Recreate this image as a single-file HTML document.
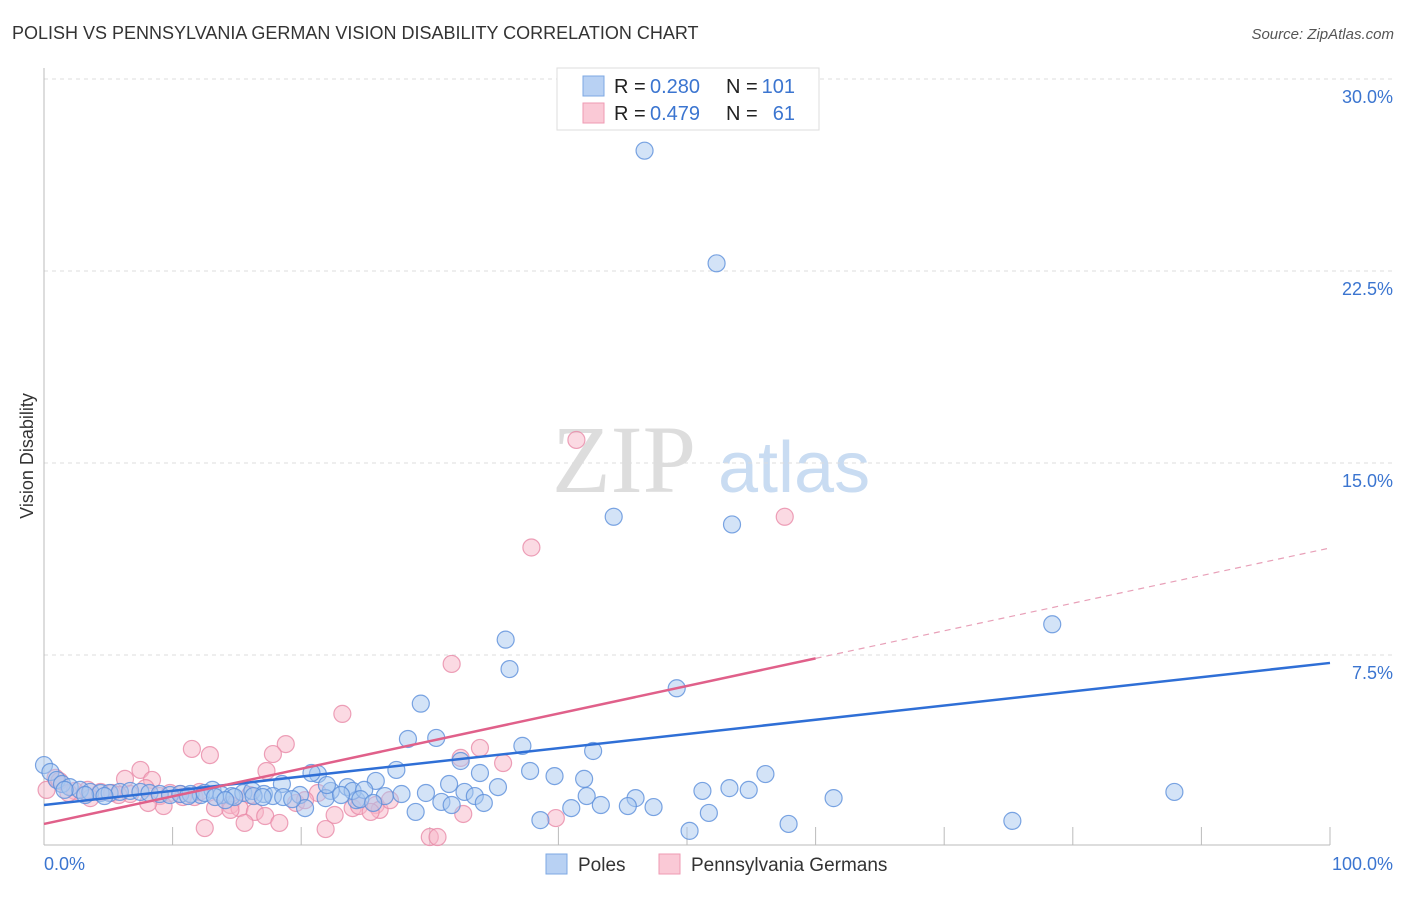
<!DOCTYPE html>
<html><head><meta charset="utf-8"><style>
body{margin:0;background:#fff;font-family:"Liberation Sans",sans-serif;}
</style></head><body>
<svg id="chart" width="1406" height="892" font-family="Liberation Sans, sans-serif">
<text x="12" y="39" font-size="18" fill="#333">POLISH VS PENNSYLVANIA GERMAN VISION DISABILITY CORRELATION CHART</text>
<text x="1394" y="39" font-size="15" fill="#555" font-style="italic" text-anchor="end">Source: ZipAtlas.com</text>
<text x="33" y="456" font-size="18" fill="#333" text-anchor="middle" transform="rotate(-90 33 456)">Vision Disability</text>
<g>
<text x="552" y="492" font-size="96" fill="#ddd" style="font-family:'Liberation Serif',serif">ZIP</text>
<text x="718" y="492" font-size="72" fill="#c9dcf2">atlas</text>
</g>
<g id="grid"></g>
<g id="axes"></g>
<g id="pinkPts"></g>
<g id="bluePts"></g>
<g id="lines"></g>
<g>
<rect x="557" y="68" width="262" height="62" fill="#fff" stroke="#ddd"/>
<rect x="583" y="76" width="21" height="20" fill="#b8d1f3" stroke="#7ea8e3"/>
<rect x="583" y="103" width="21" height="20" fill="#fac9d6" stroke="#ef9ab3"/>
<g font-size="20">
<text x="614" y="93" fill="#222">R =</text><text x="650" y="93" fill="#3b75d0">0.280</text>
<text x="726" y="93" fill="#222">N =</text><text x="795" y="93" fill="#3b75d0" text-anchor="end">101</text>
</g>
<g font-size="20">
<text x="614" y="120" fill="#222">R =</text><text x="650" y="120" fill="#3b75d0">0.479</text>
<text x="726" y="120" fill="#222">N =</text><text x="795" y="120" fill="#3b75d0" text-anchor="end">61</text>
</g>
</g>
<g>
<rect x="546" y="854" width="21" height="20" fill="#b8d1f3" stroke="#7ea8e3"/>
<text x="578" y="871" font-size="19" fill="#333">Poles</text>
<rect x="659" y="854" width="21" height="20" fill="#fac9d6" stroke="#ef9ab3"/>
<text x="691" y="871" font-size="19" fill="#333">Pennsylvania Germans</text>
</g>
</svg>
<script>
const yTicks=[7.5,15,22.5,30];
const yTickLabels=["7.5%","15.0%","22.5%","30.0%"];
const xTickLabels=["0.0%","100.0%"];
const polesX=[46.7,52.3,44.3,53.5,78.4,35.9,36.2,49.2,29.3,28.3,30.5,37.2,42.7,32.4,33.9,37.8,39.7,42.0,27.4,21.3,20.8,56.1,53.3,54.8,51.2,87.9,61.4,25.8,23.6,22.3,18.5,19.9,21.9,24.3,26.5,27.8,29.7,31.5,32.7,35.3,33.5,30.9,31.7,34.2,28.9,20.3,42.2,46.0,45.4,47.4,43.3,41.0,38.6,51.7,50.2,57.9,75.3,0.0,0.5,1.0,1.4,2.0,2.8,3.6,4.4,5.1,5.9,6.7,7.5,8.2,9.0,9.8,10.6,11.4,12.2,13.1,13.8,14.6,15.5,16.2,17.1,17.8,18.6,19.3,14.8,11.2,12.5,13.3,14.1,16.3,17.0,4.7,3.2,1.6,24.0,24.9,24.6,22.0,23.1,25.6];
const polesY=[27.2,22.8,12.9,12.6,8.7,8.1,6.95,6.2,5.6,4.22,4.26,3.95,3.75,3.36,2.89,2.97,2.77,2.66,3.01,2.85,2.89,2.85,2.3,2.23,2.19,2.15,1.91,2.58,2.34,2.19,2.46,2.03,1.91,1.83,1.99,2.07,2.11,2.46,2.15,2.34,1.99,1.76,1.64,1.72,1.37,1.52,1.99,1.91,1.6,1.56,1.64,1.52,1.05,1.33,0.63,0.9,1.02,3.2,2.93,2.62,2.46,2.34,2.23,2.15,2.11,2.11,2.15,2.19,2.15,2.11,2.07,2.03,2.07,2.07,2.03,2.23,2.03,1.99,2.11,2.19,2.07,1.99,1.95,1.87,1.95,1.99,2.11,1.95,1.83,1.99,1.95,1.99,2.03,2.23,2.19,2.23,1.87,2.42,2.03,1.72];
const pgX=[41.4,57.6,37.9,31.7,23.2,11.5,12.9,18.8,17.8,33.9,32.4,35.7,7.5,6.3,8.4,17.3,0.2,0.9,1.2,2.4,3.4,4.4,5.3,6.7,7.9,9.0,9.8,10.6,11.7,13.3,14.5,15.2,16.4,17.2,18.3,12.5,15.6,21.9,22.6,19.6,21.3,24.0,24.5,25.8,26.1,25.4,32.6,39.8,30.0,30.6,9.3,8.1,5.8,1.9,3.6,20.3,16.0,14.5,10.8,12.1,26.9];
const pgY=[15.9,12.9,11.7,7.15,5.2,3.83,3.59,4.02,3.63,3.87,3.48,3.28,3.01,2.66,2.62,2.97,2.23,2.7,2.58,2.19,2.23,2.15,2.11,2.07,2.3,1.99,2.11,2.07,1.95,1.52,1.64,1.52,1.37,1.21,0.94,0.74,0.94,0.7,1.25,1.72,2.11,1.52,1.6,1.64,1.45,1.37,1.29,1.13,0.39,0.39,1.6,1.72,2.03,2.11,1.91,1.83,2.03,1.45,1.95,2.15,1.83];
const polesTrend=[1.64,7.19];
const pgTrend=[0.9,11.68];
const pgSolidEnd=60;
</script>
<script>
const NS="http://www.w3.org/2000/svg";
const X0=44,X1=1330,Y0=847,PPY=25.6;
const xs=v=>X0+(X1-X0)*v/100;
const ys=v=>Y0-v*PPY;
function mk(tag,attrs,parent){const e=document.createElementNS(NS,tag);for(const k in attrs)e.setAttribute(k,attrs[k]);parent.appendChild(e);return e;}
const grid=document.getElementById('grid'),axes=document.getElementById('axes');
yTicks.forEach((t,i)=>{
 const l=mk('line',{x1:X0,x2:1394,y1:ys(t),y2:ys(t),stroke:'#ddd','stroke-dasharray':'4,4'},grid);
 
 
 const tx=mk('text',{x:1393,y:ys(t)+24,'font-size':18,fill:'#3b75d0','text-anchor':'end'},grid);
 tx.textContent=yTickLabels[i];
 
 
});
const ya=mk('line',{x1:X0,x2:X0,y1:68,y2:845,stroke:'#bbb'},axes);


const xa=mk('line',{x1:X0,x2:1330,y1:845,y2:845,stroke:'#bbb'},axes);


for(let i=1;i<=10;i++){
 const t=mk('line',{x1:xs(i*10),x2:xs(i*10),y1:827,y2:845,stroke:'#bbb'},axes);
 
 
}
const xl0=mk('text',{x:44,y:870,'font-size':18,fill:'#3b75d0'},axes);
xl0.textContent=xTickLabels[0];


const xl1=mk('text',{x:1393,y:870,'font-size':18,fill:'#3b75d0','text-anchor':'end'},axes);
xl1.textContent=xTickLabels[1];


function pts(X,Y,g,fill,stroke,name){
 X.forEach((x,i)=>{
  const c=mk('circle',{cx:xs(x),cy:ys(Y[i]),r:8.5,fill:fill,'fill-opacity':0.5,stroke:stroke,'stroke-opacity':0.8,'stroke-width':1.2},g);
  
  
 });
}
pts(pgX,pgY,document.getElementById('pinkPts'),'#f7b5c8','#e98aa7','pennsylvania-german-point');
pts(polesX,polesY,document.getElementById('bluePts'),'#a8c7f0','#5b8fdb','poles-point');
const lg=document.getElementById('lines');
const bl=mk('line',{x1:xs(0),y1:ys(polesTrend[0]),x2:xs(100),y2:ys(polesTrend[1]),stroke:'#2f6fd6','stroke-width':2.5},lg);


const pm=pgTrend[0]+(pgTrend[1]-pgTrend[0])*pgSolidEnd/100;
const pl=mk('line',{x1:xs(0),y1:ys(pgTrend[0]),x2:xs(pgSolidEnd),y2:ys(pm),stroke:'#e0608a','stroke-width':2.5},lg);


const pd=mk('line',{x1:xs(pgSolidEnd),y1:ys(pm),x2:xs(100),y2:ys(pgTrend[1]),stroke:'#e8a0b8','stroke-width':1.2,'stroke-dasharray':'6,5'},lg);


</script>
</body></html>
